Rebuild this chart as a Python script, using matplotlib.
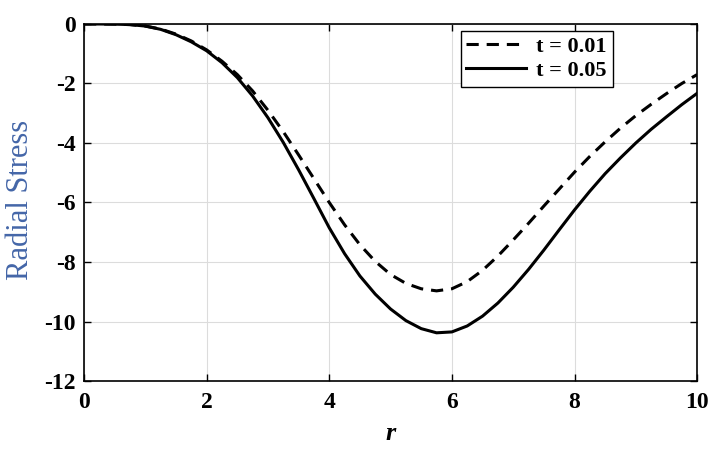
import numpy as np
import matplotlib
matplotlib.use("Agg")
import matplotlib.pyplot as plt

r = [0, 0.25, 0.5, 0.75, 1.0, 1.25, 1.5, 1.75, 2.0, 2.25, 2.5, 2.75, 3.0, 3.25, 3.5, 3.75,
     4.0, 4.25, 4.5, 4.75, 5.0, 5.25, 5.5, 5.75, 6.0, 6.25, 6.5, 6.75, 7.0, 7.25, 7.5, 7.75,
     8.0, 8.25, 8.5, 8.75, 9.0, 9.25, 9.5, 9.75, 10.0]

stress_t001 = [0, 0, -0.005, -0.02, -0.07, -0.17, -0.34, -0.57, -0.87, -1.25, -1.7, -2.25,
               -2.9, -3.62, -4.4, -5.2, -6.0, -6.75, -7.42, -7.98, -8.42, -8.72, -8.9, -8.97,
               -8.9, -8.66, -8.28, -7.8, -7.26, -6.7, -6.12, -5.55, -4.98, -4.45, -3.96, -3.5,
               -3.08, -2.7, -2.34, -2.0, -1.7]

stress_t005 = [0, 0, -0.005, -0.02, -0.07, -0.18, -0.36, -0.6, -0.9, -1.3, -1.8, -2.42,
               -3.15, -3.98, -4.9, -5.87, -6.85, -7.72, -8.47, -9.08, -9.58, -9.97, -10.24, -10.38,
               -10.35, -10.15, -9.82, -9.38, -8.85, -8.25, -7.6, -6.92, -6.25, -5.62, -5.03, -4.5,
               -4.0, -3.54, -3.12, -2.71, -2.33]

labels = ["t = 0.01", "t = 0.05"]
xticks = [0, 2, 4, 6, 8, 10]
yticks = [0, -2, -4, -6, -8, -10, -12]

plt.rcParams['font.family'] = ['Liberation Serif', 'DejaVu Serif']

fig = plt.figure(figsize=(7.15, 4.51), dpi=100)
ax = fig.add_axes([0.1175, 0.1552, 0.8575, 0.7916])

ax.plot(r, stress_t001, color='black', lw=2.2, linestyle=(0, (4.0, 2.6)), label=labels[0])
ax.plot(r, stress_t005, color='black', lw=2.2, linestyle='-', label=labels[1])

ax.set_xlim(0, 10)
ax.set_ylim(-12, 0)
ax.set_xticks(xticks)
ax.set_yticks(yticks)
ax.set_xticklabels([str(v) for v in xticks], fontsize=17, fontweight='bold')
ax.set_yticklabels([str(v) for v in yticks], fontsize=17, fontweight='bold')
ax.tick_params(axis='both', direction='in', top=True, right=True, length=5, width=1)
ax.tick_params(axis='y', pad=6)
ax.tick_params(axis='x', pad=8)
ax.grid(True, color='#dcdcdc', lw=0.8)
ax.set_axisbelow(True)
for s in ax.spines.values():
    s.set_linewidth(1.2)

ax.set_xlabel('r', fontsize=19, fontweight='bold', fontstyle='italic')
ax.xaxis.set_label_coords(0.5, -0.115)
ax.set_ylabel('Radial Stress', fontsize=22, color='#4466a8')
ax.yaxis.set_label_coords(-0.08, 0.506)

leg = ax.legend(loc='upper right', bbox_to_anchor=(0.862, 0.98), fancybox=False,
                edgecolor='black', framealpha=1, handlelength=2.7,
                prop={'weight': 'bold', 'size': 16, 'family': ['Liberation Serif']},
                borderpad=0.25, labelspacing=0.15, handletextpad=0.45, borderaxespad=0)
leg.get_frame().set_linewidth(1.0)

fig.savefig('out.png', dpi=100)
